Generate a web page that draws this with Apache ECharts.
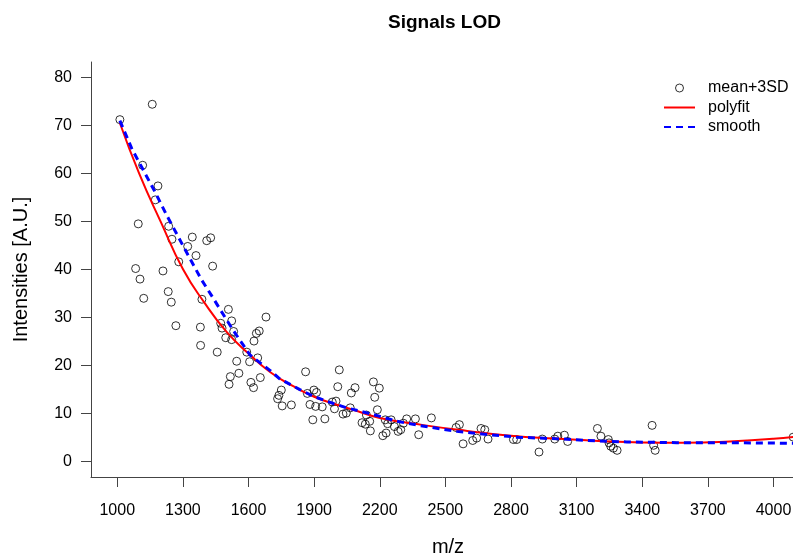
<!DOCTYPE html>
<html>
<head>
<meta charset="utf-8">
<script src="https://cdn.jsdelivr.net/npm/echarts@6/dist/echarts.min.js"></script>
<style>html,body{margin:0;padding:0;background:#fff;}#c{width:793px;height:555px;}</style>
</head>
<body>
<div id="c"></div>
<script>
// mean+3SD points
const pointMz = [1012,1160,1116,1186,1174,1096,1235,1250,1343,1322,1409,1427,1360,1281,1436,1084,1209,1104,1233,1247,1121,1387,1268,1380,1508,1523,1680,1649,1636,1473,1479,1532,1496,1523,1625,1381,1457,1592,1642,1605,1546,1556,1517,1511,1654,1611,1623,1861,2015,1750,1739,1733,1754,1796,1869,1899,1911,1881,1907,1937,1983,2000,1993,2008,1894,1949,2032,2047,2065,2087,2070,2171,2177,2189,2198,2139,2119,2134,2154,2157,2214,2229,2225,2236,2252,2267,2284,2296,2308,2323,2363,2378,2436,2549,2564,2581,2625,2643,2663,2680,2695,2811,2826,2928,2943,3000,3014,3044,3059,3195,3211,3245,3248,3256,3268,3285,3445,3452,3459,4090];
const pointInt = [71.2,74.4,61.7,57.4,54.5,49.5,49.0,46.3,46.75,44.8,46.0,46.6,42.9,41.6,40.7,40.2,39.7,38.0,35.4,33.2,34.0,33.8,28.3,28.0,31.7,29.3,30.1,27.2,26.7,28.8,27.8,27.1,25.8,25.4,25.1,24.2,22.8,22.8,21.6,20.8,20.9,18.4,17.7,16.1,17.5,16.5,15.4,18.7,19.1,14.9,13.8,13.1,11.6,11.8,14.2,14.9,14.4,11.9,11.5,11.4,12.4,12.6,11.0,15.6,8.7,8.9,9.9,10.1,11.2,15.4,14.3,16.6,13.4,10.8,15.3,9.7,8.1,7.8,8.4,6.4,5.4,5.95,8.7,7.9,8.7,7.3,6.3,6.65,8.0,8.9,8.9,5.6,9.1,7.1,7.7,3.7,4.4,4.9,6.9,6.65,4.7,4.6,4.6,2.0,4.7,4.7,5.3,5.5,4.2,6.9,5.3,4.6,3.9,3.2,2.8,2.35,7.55,3.4,2.35,5.1];

// polyfit curve
const polyMz  = [1012,1100,1200,1300,1400,1500,1600,1700,1800,1900,2000,2100,2200,2400,2600,2800,3000,3200,3400,3600,3800,4000,4144];
const polyInt = [70.5,60.0,49.8,40.1,33.0,27.0,22.5,18.6,15.8,13.5,11.9,10.5,9.1,7.6,6.4,5.4,4.8,4.3,4.0,3.95,4.2,4.75,5.4];

// smooth curve
const smoothMz  = [1012,1066,1119,1172,1226,1279,1332,1386,1439,1500,1541,1607,1698,1744,1835,1896,1988,2049,2171,2278,2384,2552,2705,2826,3039,3146,3329,3558,3787,4144];
const smoothInt = [71.0,65.2,60.7,56.2,51.3,46.8,42.3,37.8,34.0,29.5,26.6,22.2,19.0,17.2,15.0,13.6,12.1,11.2,9.8,8.4,7.5,6.3,5.6,5.1,4.7,4.4,4.1,3.95,3.95,3.8];

const xTicks = [1000,1300,1600,1900,2200,2500,2800,3100,3400,3700,4000];
const yTicks = [0,10,20,30,40,50,60,70,80];

const zip = (a,b) => a.map((v,i)=>[v,b[i]]);
const font = '"Liberation Sans", Arial, Helvetica, sans-serif';

const chart = echarts.init(document.getElementById('c'), null, {renderer:'canvas'});
chart.setOption({
  animation:false,
  backgroundColor:'#fff',
  title:{
    text:'Signals LOD', left:383, top:8,
    textStyle:{fontFamily:font, fontSize:19, fontWeight:'bold', color:'#000'}
  },
  legend:{
    orient:'vertical', left:658, top:75,
    itemWidth:31, itemHeight:8, itemGap:3.5,
    textStyle:{fontFamily:font, fontSize:16, color:'#000', lineHeight:16, padding:[0,0,0,8]},
    data:[
      {name:'mean+3SD', icon:'circle', itemStyle:{color:'rgba(0,0,0,0)', borderColor:'#000', borderWidth:1}},
      {name:'polyfit', itemStyle:{color:'rgba(0,0,0,0)', borderWidth:0, opacity:0}},
      {name:'smooth', itemStyle:{color:'rgba(0,0,0,0)', borderWidth:0, opacity:0}}
    ]
  },
  grid:{left:91, right:-12, top:62, bottom:78, containLabel:false, outerBoundsMode:'none'},
  xAxis:{
    type:'value', min:880, max:4144,
    name:'m/z', nameLocation:'middle', nameGap:60,
    nameTextStyle:{fontFamily:font, fontSize:20, color:'#000'},
    axisLine:{show:true, onZero:false, lineStyle:{color:'#444', width:1}},
    axisTick:{show:true, inside:false, length:10, customValues:xTicks, lineStyle:{color:'#444'}},
    axisLabel:{show:true, margin:26, customValues:xTicks, formatter:(v)=>String(v), fontFamily:font, fontSize:16, color:'#000'},
    splitLine:{show:false}
  },
  yAxis:{
    type:'value', min:-3.2, max:83.2,
    name:'Intensities [A.U.]', nameLocation:'middle', nameGap:60, nameRotate:90,
    nameTextStyle:{fontFamily:font, fontSize:20, color:'#000'},
    axisLine:{show:true, onZero:false, lineStyle:{color:'#444', width:1}},
    axisTick:{show:true, inside:false, length:10, customValues:yTicks, lineStyle:{color:'#444'}},
    axisLabel:{show:true, margin:19, customValues:yTicks, formatter:(v)=>String(v), fontFamily:font, fontSize:16, color:'#000'},
    splitLine:{show:false}
  },
  series:[
    {
      name:'mean+3SD', type:'scatter', data:zip(pointMz,pointInt),
      symbol:'circle', symbolSize:8,
      itemStyle:{color:'rgba(0,0,0,0)', borderColor:'#000', borderWidth:1},
      clip:true, z:2
    },
    {
      name:'polyfit', type:'line', data:zip(polyMz,polyInt),
      smooth:true, symbol:'none', showSymbol:false,
      lineStyle:{color:'#ff0000', width:2},
      itemStyle:{color:'#ff0000'},
      clip:true, z:3
    },
    {
      name:'smooth', type:'line', data:zip(smoothMz,smoothInt),
      smooth:false, symbol:'none', showSymbol:false,
      lineStyle:{color:'#0000ff', width:3, type:[7,5]},
      itemStyle:{color:'#0000ff'},
      clip:true, z:4
    }
  ]
});
</script>
</body>
</html>
